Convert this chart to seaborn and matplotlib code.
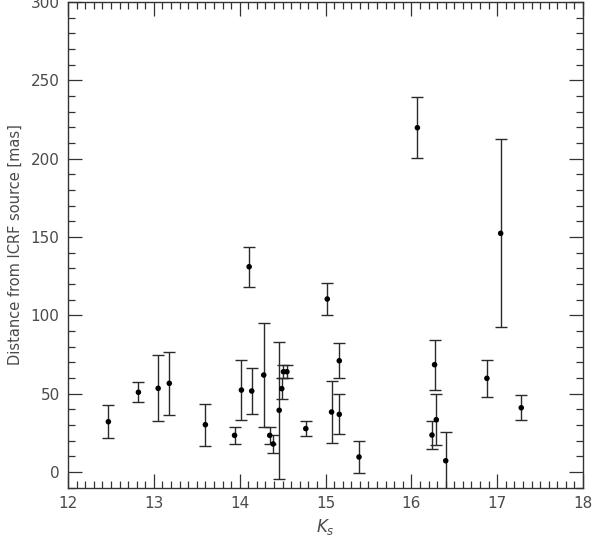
import matplotlib

matplotlib.use("Agg")
import matplotlib.pyplot as plt
import numpy as np
import pandas as pd
import seaborn as sns
from matplotlib.ticker import MultipleLocator

# Ks magnitude, distance to ICRF source [mas] and its 1-sigma error
ks = [12.47, 12.82, 13.05, 13.18, 13.60, 13.94, 14.02, 14.11, 14.14, 14.28,
      14.35, 14.39, 14.46, 14.49, 14.51, 14.55, 14.77, 15.02, 15.07, 15.16,
      15.16, 15.39, 16.07, 16.24, 16.27, 16.29, 16.40, 16.88, 17.04, 17.28]
dist = [32.1, 50.9, 53.4, 56.6, 30.2, 23.4, 52.3, 131.0, 51.7, 61.9,
        23.4, 17.9, 39.4, 53.2, 64.0, 64.0, 27.7, 110.4, 38.3, 71.0,
        36.8, 9.6, 219.7, 23.6, 68.5, 33.4, 7.2, 59.8, 152.3, 41.0]
err = [10.5, 6.3, 21.0, 20.3, 13.5, 5.5, 19.3, 12.7, 14.5, 33.2,
       5.5, 6.0, 43.8, 6.7, 4.0, 4.0, 4.8, 10.1, 19.9, 11.2,
       12.8, 10.1, 19.5, 8.9, 15.9, 16.3, 18.3, 12.0, 60.0, 7.9]

df = pd.DataFrame({"Ks": ks, "dist": dist, "err": err})

sns.set_style("ticks")
plt.rcParams["font.family"] = ["DejaVu Sans"]
txt = "#4a4a4a"

fig = plt.figure(figsize=(5.92, 5.38), dpi=100)
ax = fig.add_axes([0.1149, 0.0935, 0.870, 0.903])

ax.errorbar(df["Ks"], df["dist"], yerr=df["err"], fmt="none",
            ecolor="#2a2a2a", elinewidth=1.0, capsize=4, capthick=1.0, zorder=2)
sns.scatterplot(data=df, x="Ks", y="dist", ax=ax, color="black", s=16,
                edgecolor="none", zorder=3)

ax.set_xlim(12, 18)
ax.set_ylim(-10, 300)
ax.xaxis.set_major_locator(MultipleLocator(1))
ax.xaxis.set_minor_locator(MultipleLocator(0.1))
ax.yaxis.set_major_locator(MultipleLocator(50))
ax.yaxis.set_minor_locator(MultipleLocator(10))
ax.tick_params(which="both", direction="in", top=True, right=True,
               colors="#333333", labelcolor=txt, width=0.9)
ax.tick_params(which="major", length=10, labelsize=11, pad=6)
ax.tick_params(which="minor", length=5)
for s in ax.spines.values():
    s.set_color("#333333")
    s.set_linewidth(1.0)

ax.set_xlabel("$K_s$", fontsize=12, color=txt, labelpad=4)
ax.set_ylabel("Distance from ICRF source [mas]", fontsize=10.5, color=txt,
              labelpad=6)

fig.savefig("out.png", dpi=100)
